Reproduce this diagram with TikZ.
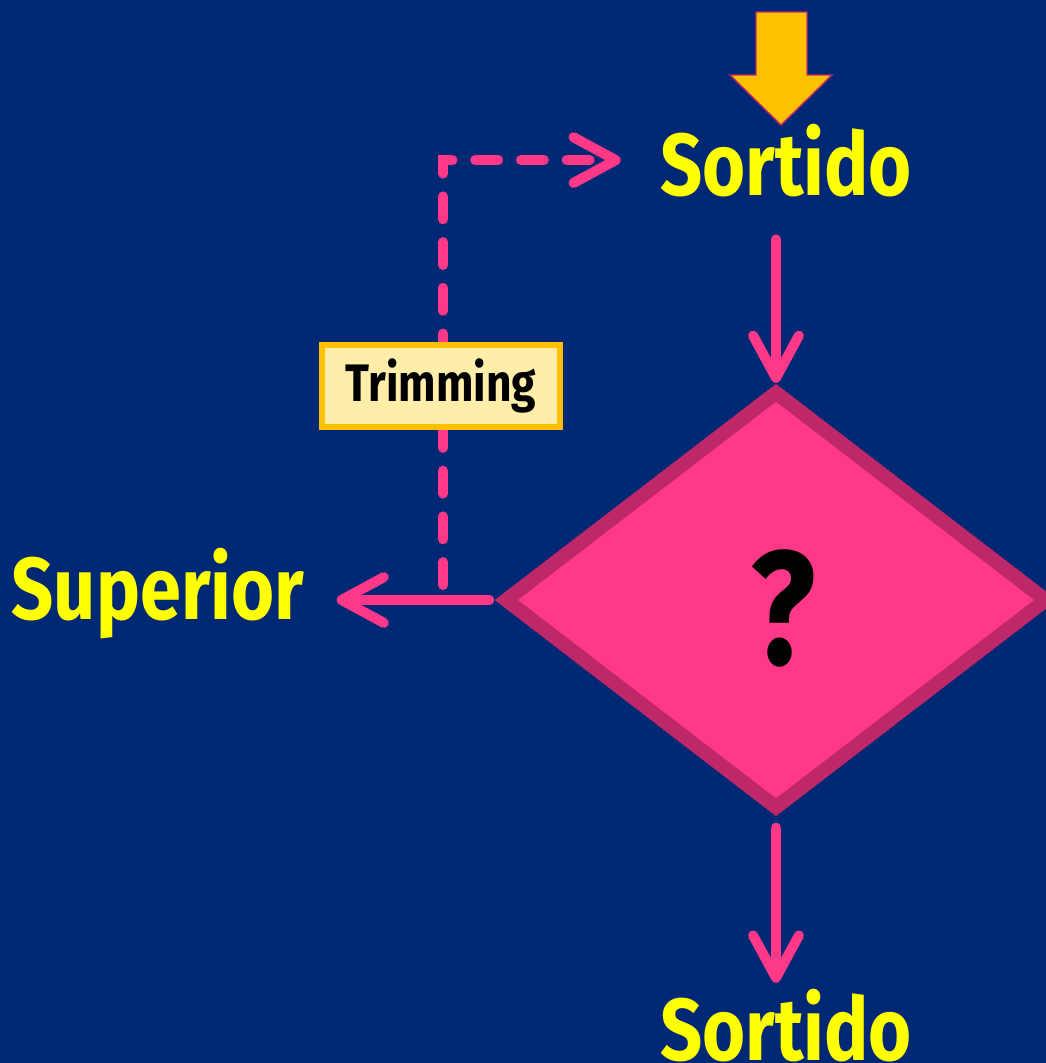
\documentclass[tikz,border=0pt]{standalone}
\usepackage{fontspec}
\setmainfont{Fira Sans}[FakeStretch=0.84]
\usetikzlibrary{arrows.meta,shapes.geometric}
\definecolor{navy}{HTML}{002874}
\definecolor{hotpink}{HTML}{FF3888}
\definecolor{darkpink}{HTML}{BE2868}
\definecolor{amber}{HTML}{FFC000}
\definecolor{cream}{HTML}{FFEEAA}
\definecolor{lemon}{HTML}{FFFF00}

\begin{document}
\begin{tikzpicture}[x=0.01cm,y=-0.01cm,
  flow/.style={hotpink,line width=2.85pt,line cap=round,-{Straight Barb[length=12pt,width=13pt,round]}},
  word/.style={text=lemon,font=\bfseries\fontsize{25}{30}\selectfont,inner sep=0pt,anchor=base}]
\useasboundingbox (0,0) rectangle (1046,1063);
\clip (0,0) rectangle (1046,1063);
\fill[navy] (0,0) rectangle (1046,1063);
% big entry arrow
\fill[amber,draw=darkpink,line width=0.4pt] (756,12) -- (807,12) -- (807,75) -- (832,75)
  -- (781,125) -- (730,75) -- (756,75) -- cycle;
\node[word] (top) at (786,195) {Sortido};
\node[word] (bot) at (786,1060) {Sortido};
\node[word] (sup) at (158,619) {Superior};
\node[diamond,fill=hotpink,draw=darkpink,line width=4pt,minimum width=5.45cm,minimum height=4.2cm,
  inner sep=0pt] (dia) at (776,600) {};
\node[font=\bfseries\fontsize{46}{50}\selectfont] (q) at (783,608) {?};
\draw[flow,shorten <=12pt] (dia.north |- top.south) -- (dia.north);
\draw[flow,shorten <=3pt,shorten >=1.5pt] (dia.south) -- (dia.south |- bot.north);
\draw[flow,shorten <=2pt,shorten >=9pt] (dia.west) -- (dia.west -| sup.east);
\coordinate (fork) at (443,585);
\draw[flow,dash pattern=on 6.5pt off 6.5pt,shorten >=11pt] (fork) |- (top.west);
\node[fill=cream,draw=amber,line width=1.7pt,minimum width=2.37cm,minimum height=0.82cm,inner sep=2pt,
  font=\bfseries\fontsize{15}{18}\selectfont] (trim) at (441,386) {Trimming};
\end{tikzpicture}
\end{document}
